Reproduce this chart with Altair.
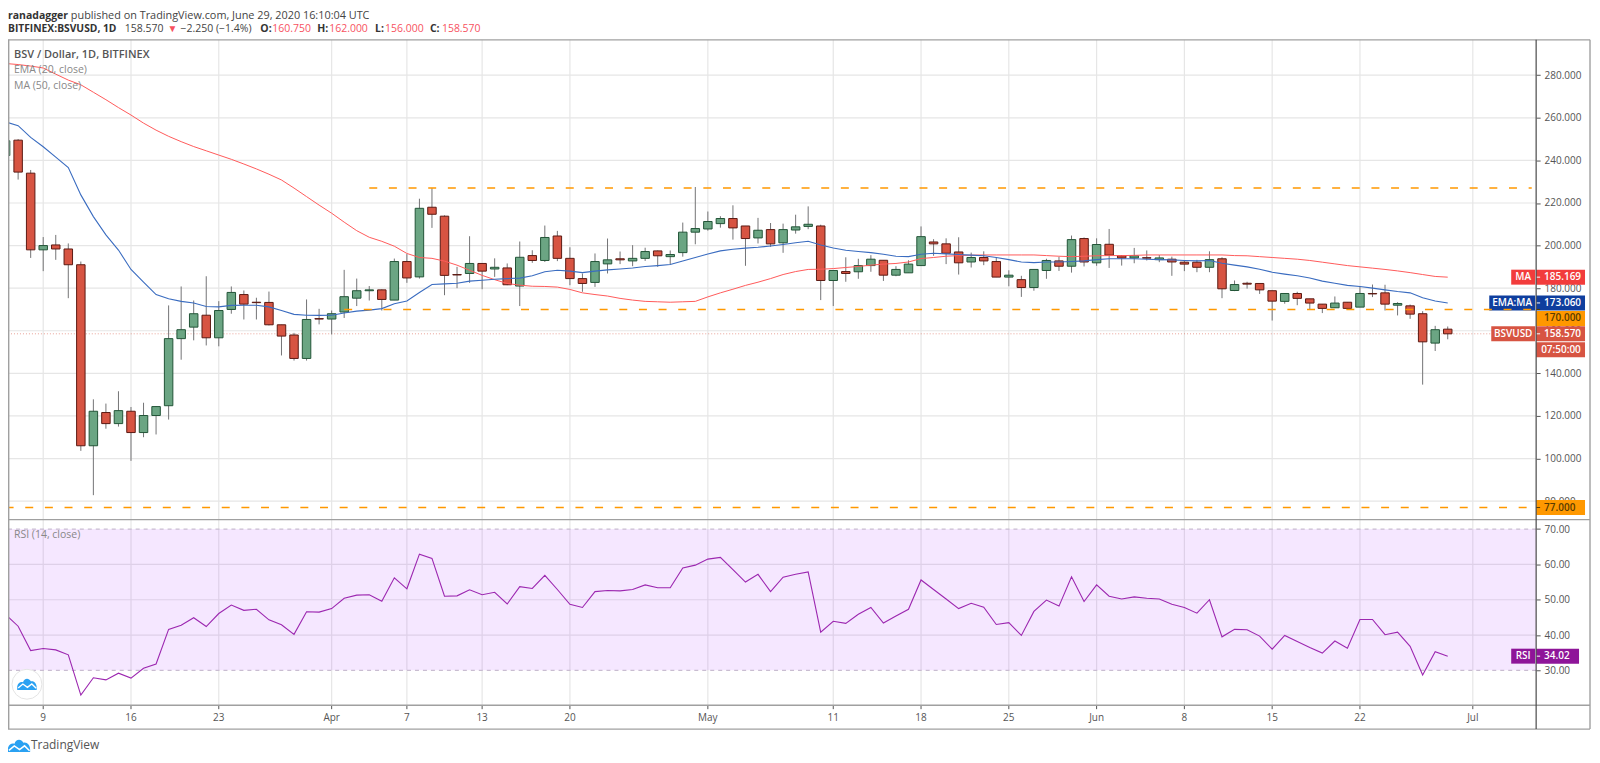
import altair as alt
import pandas as pd

days = list(range(-3, 113))
opens = [242.3,249.5,234.0,198.0,200.3,198.4,191.0,106.0,121.6,116.4,
122.2,112.2,120.2,124.8,156.3,161.7,167.3,156.7,170.0,177.0,
173.4,173.3,162.8,158.0,147.0,165.7,165.5,168.8,175.3,178.8,
179.2,174.4,192.5,185.3,218.0,213.8,186.4,186.9,191.6,189.0,
189.5,181.0,195.3,193.0,204.5,194.0,184.5,182.7,191.4,193.8,
192.8,194.0,197.5,194.8,196.7,206.3,207.8,210.3,212.7,209.2,
203.6,207.5,201.3,207.3,209.0,209.2,183.6,187.8,187.7,190.6,
193.1,186.1,187.2,190.6,201.7,200.8,197.0,192.3,194.4,192.5,
185.2,184.0,180.3,188.3,192.8,190.3,203.3,191.9,200.6,195.2,
194.2,194.3,193.4,193.6,192.2,192.2,189.8,193.8,178.9,182.3,
182.2,178.8,173.8,177.5,175.0,172.5,170.8,173.4,171.1,177.5,
177.8,172.0,171.7,168.0,154.2,160.75]
closes = [249.2,234.5,198.0,200.0,198.4,191.0,106.0,122.2,116.4,122.5,
112.2,120.2,124.4,156.3,160.5,168.0,156.7,169.5,178.0,172.5,
173.2,162.8,157.5,147.0,165.3,165.5,168.0,176.0,178.8,179.2,
174.7,192.5,184.8,217.5,214.7,186.0,186.2,191.6,188.0,189.8,
181.6,194.5,193.0,203.8,194.0,184.5,182.2,192.5,193.3,193.3,
194.0,197.2,195.2,195.8,206.3,208.0,211.3,212.7,208.3,203.3,
207.2,200.8,207.5,208.8,210.0,183.6,188.3,186.9,190.6,193.6,
186.1,188.8,191.3,204.2,200.8,196.4,191.9,194.4,192.8,185.2,
186.1,180.3,188.8,193.0,190.3,202.8,192.3,200.5,195.5,194.2,
195.2,194.1,194.2,192.3,191.3,189.8,193.4,179.7,181.7,181.9,
179.2,173.9,177.5,175.2,173.0,170.5,173.0,170.5,177.5,177.3,
172.5,172.8,167.8,154.8,160.5,158.57]
highs = [250.0,250.0,235.5,204.0,205.0,201.0,192.5,127.8,125.8,131.6,
124.2,126.2,124.6,171.9,180.8,174.2,185.6,173.9,180.8,178.9,
175.5,178.4,162.8,159.0,174.7,170.3,169.5,188.6,184.5,181.0,
179.4,193.9,196.0,222.0,227.0,214.2,190.0,204.4,191.6,194.0,
191.6,201.9,197.8,209.4,206.9,199.2,186.9,196.3,203.3,197.2,
200.2,199.0,197.7,197.7,210.8,227.5,216.0,213.8,218.9,209.2,
213.0,210.6,210.3,214.5,218.4,209.8,188.3,194.5,193.8,195.5,
193.1,190.3,193.1,209.0,203.0,203.4,203.9,196.7,197.3,194.4,
188.4,185.8,188.8,193.8,194.7,204.7,203.8,203.4,207.8,195.2,
198.9,197.7,195.6,194.8,193.0,193.3,197.3,194.5,183.6,183.0,
182.2,178.8,177.5,178.3,175.0,172.5,176.1,173.4,180.8,181.7,
181.6,173.4,172.3,169.2,162.3,162.0]
lows = [241.0,231.0,194.2,188.0,193.3,175.3,103.6,82.8,114.0,115.0,
98.9,110.0,111.3,118.3,146.4,155.5,153.1,152.7,168.0,165.3,
165.3,162.5,148.4,146.0,146.0,163.0,158.3,166.0,171.6,174.2,
169.5,174.4,182.5,184.5,208.3,176.7,180.0,182.5,179.5,185.3,
181.4,171.6,191.9,192.3,192.7,181.4,178.3,180.6,186.9,191.3,
190.3,192.8,190.0,191.1,194.8,200.6,207.0,208.4,202.8,190.5,
201.0,199.4,196.6,205.6,207.7,174.4,171.6,183.0,184.4,187.7,
183.4,185.6,187.2,190.6,195.2,191.3,186.4,189.7,190.8,185.2,
180.9,175.9,178.8,184.4,188.1,187.3,190.2,190.5,189.5,190.6,
191.7,193.0,192.2,185.8,188.0,187.5,187.5,175.3,178.6,179.8,
177.3,164.8,172.7,172.0,169.8,168.3,170.8,169.8,171.1,175.8,
169.5,167.2,165.6,134.7,150.5,156.0]
ema20 = [258.1,256.3,250.8,246.4,241.5,236.6,223.8,213.6,205.0,197.9,188.8,182.8,177.0,175.0,173.8,173.0,171.4,171.2,171.9,172.0,
172.0,171.2,169.5,167.7,167.3,167.2,167.3,168.3,169.2,169.7,170.4,172.7,174.0,178.0,181.7,182.0,182.3,183.3,183.7,184.2,
184.5,184.7,185.8,187.7,188.4,188.0,187.3,188.0,188.6,189.0,189.5,190.2,190.6,191.1,192.8,194.4,196.0,197.5,198.3,198.8,
199.2,199.8,200.5,201.3,202.0,200.3,198.9,197.8,197.2,196.7,195.9,195.0,194.8,195.9,196.4,196.1,195.8,195.5,195.2,194.4,
193.4,192.3,192.0,192.3,192.3,192.5,192.8,193.4,193.8,193.8,193.8,193.6,193.4,193.3,193.0,192.8,193.0,191.7,190.8,190.0,
188.9,187.5,186.6,185.8,184.8,183.3,182.3,181.3,180.8,180.0,179.2,178.4,177.8,175.5,174.0,173.06]
ma50 = [285.5,285.0,284.3,283.4,280.5,277.7,275.5,272.0,268.5,264.8,261.3,257.5,254.2,251.3,248.8,246.5,244.5,242.5,240.5,238.3,
236.0,233.5,230.8,227.0,223.0,219.0,215.2,211.0,207.0,203.9,202.0,199.7,196.3,194.4,194.0,192.7,190.8,188.4,186.0,184.0,
182.2,181.4,180.9,180.8,180.5,179.4,177.8,177.0,176.3,175.2,174.4,173.8,173.6,173.4,173.6,173.8,175.9,177.8,179.5,181.3,
182.8,184.5,186.4,187.8,188.8,188.9,189.2,189.7,190.2,190.8,191.3,191.6,192.3,193.9,194.4,195.0,195.3,195.5,195.6,195.6,
195.6,195.6,195.6,195.3,195.0,194.8,195.0,195.2,195.3,195.3,195.4,195.6,195.6,195.6,195.6,195.6,195.6,195.6,195.3,195.2,
194.8,194.4,194.0,193.6,193.0,192.2,191.4,190.6,190.0,189.4,188.8,188.1,187.3,186.4,185.5,185.169]
rsi = [45.8,42.5,35.6,36.2,35.8,34.4,23.0,27.9,27.3,29.2,27.8,30.6,31.8,41.6,42.8,44.9,42.4,46.1,48.5,47.0,
47.3,44.3,42.9,40.2,46.6,46.5,47.5,50.4,51.3,51.4,49.6,56.2,53.1,62.9,61.7,51.0,51.1,52.8,51.4,52.1,
48.8,53.7,53.2,56.9,52.9,48.7,47.8,52.3,52.6,52.5,52.9,54.2,53.4,53.4,59.0,59.8,61.5,62.0,58.5,55.0,
57.2,52.3,56.4,57.2,57.9,40.8,43.9,43.3,45.9,47.8,43.4,45.4,47.3,55.6,52.9,50.2,47.5,49.0,47.9,43.0,
43.5,39.9,46.7,49.9,48.2,56.5,49.5,54.2,51.0,50.2,50.8,50.4,50.2,48.7,47.8,46.2,50.0,39.5,41.6,41.5,
39.7,36.0,39.9,38.2,36.5,34.9,38.3,36.3,44.4,44.4,40.1,40.8,36.8,28.7,35.3,34.02]

price_ticks = [80,100,120,140,160,180,200,220,240,260,280]
rsi_ticks = [30,40,50,60,70]
rsi_grid = [40,50,60]
time_ticks = [0,7,14,23,29,35,42,53,63,70,77,84,91,98,105,114]
time_labels = ["9","16","23","Apr","7","13","20","May","11","18","25","Jun","8","15","22","Jul"]

FONT = "Open Sans"
GRID = "#e6e6e6"
FRAME = "#a0a0a0"
AXIS = "#4a4a4a"
TXT = "#555555"
UP, UP_B = "#6ba583", "#225437"
DN, DN_B = "#d75442", "#5b1a13"
ORANGE = "#ff9800"
LOGO = "#2aa1f2"
CLOUD = "M-1 0.6 L-1 0.2 C-0.9 -0.2 -0.6 -0.3 -0.4 -0.2 C-0.3 -0.65 0.2 -0.7 0.4 -0.3 C0.7 -0.4 1 -0.1 1 0.3 L1 0.6 Z"
ZIG = "M-0.9 0.38 L-0.42 -0.02 L0.05 0.32 L0.5 -0.02 L0.95 0.42"

W, H = 1532, 691
def PX(v): return v - 8
def PY(v): return v - 39

xs = alt.Scale(domain=[-2.808, 119.05], range=[0, W], nice=False, zero=False, padding=0)
ps = alt.Scale(domain=[71.3, 296.6], range=[PY(520), PY(39)], nice=False, zero=False)
rs = alt.Scale(domain=[20.14, 72.68], range=[PY(706), PY(520)], nice=False, zero=False)

df = pd.DataFrame(dict(d=days, o=opens, h=highs, l=lows, c=closes, ema=ema20, ma=ma50, rsi=rsi))
df["up"] = ["up" if c >= o else "down" for o, c in zip(opens, closes)]

X = alt.X("d:Q", scale=xs, axis=None)
def Yp(f): return alt.Y(f, type="quantitative", scale=ps, axis=None)
def Yr(f): return alt.Y(f, type="quantitative", scale=rs, axis=None)

layers = []

# vertical grid, ticks and time labels
tdf = pd.DataFrame({"d": time_ticks, "label": time_labels})
layers.append(alt.Chart(tdf).mark_rule(color=GRID, strokeWidth=1.2).encode(
    x=X, y=alt.value(0), y2=alt.value(PY(706))))
layers.append(alt.Chart(tdf).mark_rule(color=TXT, strokeWidth=1).encode(
    x=X, y=alt.value(PY(706)), y2=alt.value(PY(710))))
layers.append(alt.Chart(tdf).mark_text(font=FONT, fontSize=10, color=TXT, baseline="middle", align="center").encode(
    x=X, y=alt.value(PY(719)), text="label:N"))

# horizontal grids + axes
layers.append(alt.Chart(pd.DataFrame({"v": price_ticks})).mark_rule(color=GRID, strokeWidth=1.2).encode(
    y=alt.Y("v:Q", scale=ps, axis=alt.Axis(orient="right", values=price_ticks, format=".3f", grid=False, domain=False,
        labelFont=FONT, labelFontSize=10, labelColor=TXT, tickColor=TXT, tickSize=4, labelPadding=4, title=None)),
    x=alt.value(0), x2=alt.value(W)))
layers.append(alt.Chart(pd.DataFrame({"v": rsi_grid})).mark_rule(color=GRID, strokeWidth=1.2).encode(
    y=Yr("v"), x=alt.value(0), x2=alt.value(W)))

# RSI band and bounds
layers.append(alt.Chart(pd.DataFrame({"a": [30], "b": [70]})).mark_rect(color="#9915ff", opacity=0.1).encode(
    y=Yr("a"), y2="b:Q", x=alt.value(0), x2=alt.value(W)))
layers.append(alt.Chart(pd.DataFrame({"v": rsi_ticks})).transform_filter("datum.v==30||datum.v==70")
    .mark_rule(color="#c9bdd1", strokeWidth=1.2, strokeDash=[4, 4]).encode(
    y=alt.Y("v:Q", scale=rs, axis=alt.Axis(orient="right", values=rsi_ticks, format=".2f", grid=False, domain=False,
        labelFont=FONT, labelFontSize=10, labelColor=TXT, tickColor=TXT, tickSize=4, labelPadding=4, title=None)),
    x=alt.value(0), x2=alt.value(W)))

# last price dotted line
layers.append(alt.Chart(pd.DataFrame({"v": [closes[-1]]})).mark_rule(color=DN, opacity=0.55, strokeWidth=1, strokeDash=[1, 2]).encode(
    y=Yp("v"), x=alt.value(0), x2=alt.value(W)))

# candles
base = alt.Chart(df)
layers.append(base.mark_rule(color="#737375", strokeWidth=1, clip=True).encode(x=X, y=Yp("l"), y2="h:Q"))
layers.append(base.mark_bar(width=8.5, strokeWidth=1, clip=True).encode(
    x=X, y=Yp("o"), y2="c:Q",
    color=alt.Color("up:N", scale=alt.Scale(domain=["up", "down"], range=[UP, DN]), legend=None),
    stroke=alt.Stroke("up:N", scale=alt.Scale(domain=["up", "down"], range=[UP_B, DN_B]), legend=None)))

# moving averages and RSI
layers.append(base.mark_line(color="#ff5a5a", strokeWidth=1, clip=True).encode(x=X, y=Yp("ma")))
layers.append(base.mark_line(color="#3a6cc0", strokeWidth=1.1, clip=True).encode(x=X, y=Yp("ema")))
layers.append(base.mark_line(color="#9c27b0", strokeWidth=1.1, clip=True).encode(x=X, y=Yr("rsi")))

# right hand tags
def tag(value, scale, right, rbg, rfg="#ffffff", left=None, lx=None, rx2=1589, dy=0):
    out = []
    dfv = pd.DataFrame({"v": [value]})
    Y = alt.Y("v:Q", scale=scale, axis=None)
    ch = alt.Chart(dfv)
    out.append(ch.mark_rect(height=15, color=rbg, yOffset=dy).encode(y=Y, x=alt.value(W), x2=alt.value(PX(rx2))))
    out.append(ch.mark_rule(color=rfg, strokeWidth=1).encode(y=Y, x=alt.value(W), x2=alt.value(W + 4)))
    out.append(ch.mark_text(align="left", baseline="middle", font=FONT, fontSize=10, fontWeight=600, color=rfg, yOffset=dy)
               .encode(y=Y, x=alt.value(PX(1548)), text=alt.value(right)))
    if left:
        out.append(ch.mark_rect(height=15, color=rbg).encode(y=Y, x=alt.value(PX(lx)), x2=alt.value(W - 1)))
        out.append(ch.mark_text(align="center", baseline="middle", font=FONT, fontSize=10, fontWeight=600, color=rfg)
                   .encode(y=Y, x=alt.value((PX(lx) + W - 1) / 2), text=alt.value(left)))
    return out

layers += tag(ma50[-1], ps, "185.169", "#f23c3c", left="MA", lx=1515)
layers += tag(ema20[-1], ps, "173.060", "#0f3e9e", left="EMA:MA", lx=1493)
layers += tag(170, ps, "170.000", ORANGE, rfg="#5a3c00", dy=9)
layers += tag(77, ps, "77.000", ORANGE, rfg="#5a3c00")
layers += tag(closes[-1], ps, "158.570", DN, left="BSVUSD", lx=1495)
layers += [alt.Chart(pd.DataFrame({"v": [closes[-1]]})).mark_rect(height=15, color=DN, yOffset=16).encode(
               y=alt.Y("v:Q", scale=ps, axis=None), x=alt.value(W), x2=alt.value(PX(1589))),
           alt.Chart(pd.DataFrame({"v": [closes[-1]]})).mark_text(align="left", baseline="middle", font=FONT, fontSize=10, fontWeight=600, color="#fff", yOffset=16).encode(
               y=alt.Y("v:Q", scale=ps, axis=None), x=alt.value(PX(1545)), text=alt.value("07:50:00"))]
layers += tag(rsi[-1], rs, "34.02", "#8e1599", left="RSI", lx=1515, rx2=1583)

# horizontal levels
for lv, d0 in [(227, 26), (170, 24), (77, -3)]:
    layers.append(alt.Chart(pd.DataFrame({"v": [lv, lv], "d": [d0, 118.7]})).mark_line(
        color=ORANGE, strokeWidth=1.6, strokeDash=[8, 11.7], clip=True).encode(x=X, y=Yp("v")))

# frame
def hline(py, x1=0, x2=W + 54, c=FRAME, w=1.4):
    return alt.Chart(pd.DataFrame({"a": [0]})).mark_rule(color=c, strokeWidth=w).encode(
        y=alt.value(PY(py)), x=alt.value(x1), x2=alt.value(x2))
def vline(px, y1=0, y2=H, c=FRAME, w=1.4):
    return alt.Chart(pd.DataFrame({"a": [0]})).mark_rule(color=c, strokeWidth=w).encode(
        x=alt.value(px), y=alt.value(y1), y2=alt.value(y2))
layers += [hline(39), hline(520), hline(706), hline(730), vline(0.7), vline(W + 54), vline(W, c=AXIS, w=1.2)]

# texts
def txt(s, x, y, size=11, color=TXT, weight="normal", align="left"):
    return alt.Chart(pd.DataFrame({"a": [0]})).mark_text(align=align, baseline="middle", font=FONT, fontSize=size,
        fontWeight=weight, color=color).encode(x=alt.value(PX(x)), y=alt.value(PY(y)), text=alt.value(s))

RED = "#f7525f"
DK = "#333333"
layers += [
    txt("ranadagger", 8, 15, 10.5, DK, "bold"),
    txt("published on TradingView.com, June 29, 2020 16:10:04 UTC", 71, 15, 10.9, "#444444"),
    txt("BITFINEX:BSVUSD, 1D", 8, 28, 10.3, DK, "bold"),
    txt("158.570", 125, 28, 10.5, "#444444"),
    txt("▼", 168, 28, 10, RED),
    txt("−2.250 (−1.4%)", 181, 28, 10.5, "#444444"),
    txt("O:", 261, 28, 10.5, DK, "bold"), txt("160.750", 273, 28, 10.5, RED),
    txt("H:", 318, 28, 10.5, DK, "bold"), txt("162.000", 330, 28, 10.5, RED),
    txt("L:", 376, 28, 10.5, DK, "bold"), txt("156.000", 386, 28, 10.5, RED),
    txt("C:", 431, 28, 10.5, DK, "bold"), txt("158.570", 443, 28, 10.5, RED),
    txt("BSV / Dollar, 1D, BITFINEX", 14, 54, 11, "#555555", 600),
    txt("EMA (20, close)", 14, 69.5, 10.5, "#888888"),
    txt("MA (50, close)", 14, 85, 10.5, "#888888"),
    txt("RSI (14, close)", 14, 535, 10.5, "#888888"),
    txt("TradingView", 31, 746, 12, "#555555"),
]

# logos
def sym(shape, x, y, size, **kw):
    return alt.Chart(pd.DataFrame({"a": [0]})).mark_point(shape=shape, size=size, **kw).encode(
        x=alt.value(PX(x)), y=alt.value(PY(y)))
layers += [
    sym("circle", 27, 685, 900, filled=True, fill="#ffffff", stroke="#e4e4e4", strokeWidth=1, opacity=1),
    sym(CLOUD, 27, 685, 380, filled=True, fill=LOGO, strokeWidth=0, opacity=1),
    sym(ZIG, 27, 685, 380, filled=False, stroke="#ffffff", strokeWidth=1.4, opacity=1),
    sym(CLOUD, 19, 747, 500, filled=True, fill=LOGO, strokeWidth=0, opacity=1),
    sym(ZIG, 19, 747, 500, filled=False, stroke="#ffffff", strokeWidth=1.5, opacity=1),
]

chart = alt.layer(*layers).resolve_scale(y="independent").properties(
    width=W, height=H,
    autosize=alt.AutoSizeParams(type="none"),
    padding={"left": 0, "top": 31, "right": 56, "bottom": 22},
).configure_view(stroke=None)

chart.save("out.html", embed_options={"renderer": "svg", "actions": False})
